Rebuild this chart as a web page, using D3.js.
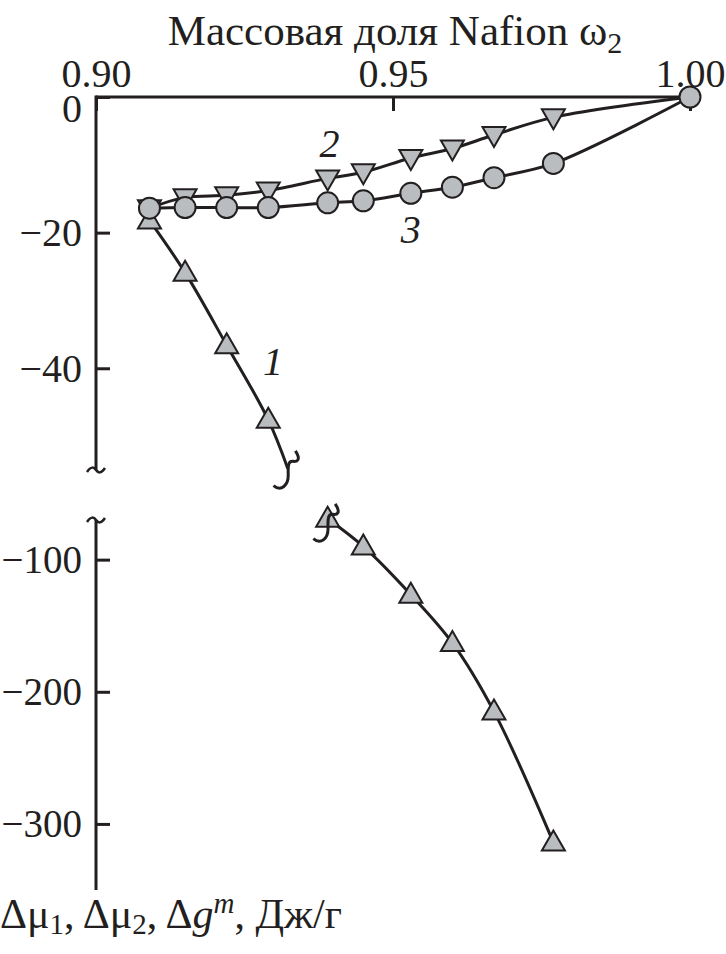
<!DOCTYPE html>
<html>
<head>
<meta charset="utf-8">
<script src="https://cdn.jsdelivr.net/npm/d3@7"></script>
<style>
  body { margin: 0; background: #fff; }
  svg text { font-family: "Liberation Serif", "Times New Roman", serif; fill: #231f20; }
</style>
</head>
<body>
<div id="chart"></div>
<script>
// data
const omega = [0.909, 0.915, 0.922, 0.929, 0.939, 0.945, 0.953, 0.960, 0.967, 0.977, 1.00];
const mu1 = [-18.2, -25.9, -36.6, -47.6, -69, -90, -126.5, -163, -215, -314];   // curve 1, no value at 1.00
const mu2 = [-16.4, -14.8, -14.5, -13.8, -12.0, -11.1, -9.0, -7.6, -5.6, -3.0, 0];
const gm = [-16.4, -16.3, -16.3, -16.3, -15.6, -15.3, -14.2, -13.3, -11.9, -9.8, 0];
const breakEnd1 = [0.9323, -54.8];   // where curve 1 is cut
const xTicks = [0.90, 0.95, 1.00];
const yTicksUpper = [0, -20, -40];
const yTicksLower = [-100, -200, -300];

const width = 726, height = 954;
const svg = d3.select("#chart").append("svg")
  .attr("width", width)
  .attr("height", height);

// SCALES ======================
const x = d3.scaleLinear().domain([0.90, 1.00]).range([96, 690]);
const yUp = d3.scaleLinear().domain([0, -55]).range([97, 470]);
const yLow = d3.scaleLinear().domain([-70, -350]).range([520, 890]);
const y = v => v >= -55 ? yUp(v) : yLow(v);

const ink = "#231f20";
const markFill = "#b9bdc0";

// AXES ========================
const xAxis = svg.append("g")
  .attr("transform", `translate(0,${yUp(0)})`)
  .call(d3.axisTop(x).tickValues(xTicks).tickSize(-14).tickPadding(10).tickFormat(d3.format(".2f")));
xAxis.select(".domain").attr("d", `M${x(0.90)},0H${x(1.00) + 2}`);

const yAxisUp = svg.append("g")
  .attr("transform", `translate(${x(0.90)},0)`)
  .call(d3.axisLeft(yUp).tickValues(yTicksUpper).tickSize(-14).tickPadding(14).tickFormat(d3.format("")));
yAxisUp.select(".domain").attr("d", `M0,${yUp(0) - 1.5}V${yUp(-55)}`);
// the zero label sits a bit lower, clear of the top axis labels
yAxisUp.selectAll(".tick").filter(d => d === 0).select("text").attr("dy", "0.62em");

const yAxisLow = svg.append("g")
  .attr("transform", `translate(${x(0.90)},0)`)
  .call(d3.axisLeft(yLow).tickValues(yTicksLower).tickSize(-14).tickPadding(14).tickFormat(d3.format("")));
yAxisLow.select(".domain").attr("d", `M0,${yLow(-70)}V${yLow(-350)}`);

svg.selectAll(".domain").attr("stroke", ink).attr("stroke-width", 3).attr("fill", "none");
svg.selectAll(".tick line").attr("stroke", ink).attr("stroke-width", 3);
svg.selectAll(".tick text")
  .attr("font-family", "Liberation Serif")
  .attr("font-size", 40)
  .attr("fill", ink);
svg.selectAll("g.tick").filter(d => d <= -100).select("text").attr("font-size", 39);

// axis break ticks
const tilde = "M-9,2 C-5,-4 -2,-3 0,0 S5,4 9,-2";
[yUp(-55), yLow(-70)].forEach(py => {
  svg.append("path")
    .attr("d", tilde)
    .attr("transform", `translate(${x(0.90)},${py})`)
    .attr("fill", "none").attr("stroke", ink).attr("stroke-width", 2.5);
});

// LINES =======================
const line = d3.line().x(d => x(d[0])).y(d => y(d[1])).curve(d3.curveCatmullRom.alpha(0.5));

const s1Upper = omega.slice(0, 4).map((w, i) => [w, mu1[i]]).concat([breakEnd1]);
const s1Lower = omega.slice(4, 10).map((w, i) => [w, mu1[i + 4]]);
const s2 = omega.map((w, i) => [w, mu2[i]]);
const s3 = omega.map((w, i) => [w, gm[i]]);

[s2, s3, s1Upper, s1Lower].forEach(pts => {
  svg.append("path")
    .attr("d", line(pts))
    .attr("fill", "none")
    .attr("stroke", ink)
    .attr("stroke-width", 3);
});

// MARKERS =====================
const triUp = "M0,-12 L11.5,8 L-11.5,8 Z";
const triDown = "M0,12 L11.5,-8 L-11.5,-8 Z";

svg.selectAll("path.m2").data(s2.slice(0, 10)).join("path")
  .attr("class", "m2")
  .attr("d", triDown)
  .attr("transform", d => `translate(${x(d[0])},${y(d[1])})`)
  .attr("fill", markFill).attr("stroke", ink).attr("stroke-width", 2);

svg.selectAll("path.m1").data(s1Upper.slice(0, 4).concat(s1Lower)).join("path")
  .attr("class", "m1")
  .attr("d", triUp)
  .attr("transform", d => `translate(${x(d[0])},${y(d[1])})`)
  .attr("fill", markFill).attr("stroke", ink).attr("stroke-width", 2);

svg.selectAll("circle.m3").data(s3).join("circle")
  .attr("class", "m3")
  .attr("cx", d => x(d[0]))
  .attr("cy", d => y(d[1]))
  .attr("r", 10.5)
  .attr("fill", markFill).attr("stroke", ink).attr("stroke-width", 2);

// break squiggles on curve 1 (same slant for both ends)
const squiggle = "M-21,-4 C-22,6 -12,8 -4,2 S8,-6 10,-2 S16,4 20,-6";
svg.append("path")
  .attr("d", squiggle)
  .attr("transform", `translate(${x(breakEnd1[0]) + 1},${y(breakEnd1[1]) + 2}) rotate(-55)`)
  .attr("fill", "none").attr("stroke", ink).attr("stroke-width", 3);

svg.append("path")
  .attr("d", squiggle)
  .attr("transform", `translate(${x(s1Lower[0][0]) + 1},${y(s1Lower[0][1]) + 5}) rotate(-55)`)
  .attr("fill", "none").attr("stroke", ink).attr("stroke-width", 3);

// CURVE NUMBERS ===============
const numLabels = [
  { t: "1", w: 0.9298, v: -41 },
  { t: "2", w: 0.9393, v: -8.8 },
  { t: "3", w: 0.9530, v: -21.6 }
];
svg.selectAll("text.num").data(numLabels).join("text")
  .attr("class", "num")
  .attr("x", d => x(d.w))
  .attr("y", d => y(d.v))
  .attr("text-anchor", "middle")
  .attr("font-size", 40)
  .attr("font-style", "italic")
  .text(d => d.t);

// TITLES ======================
const title = svg.append("text")
  .attr("x", 395)
  .attr("y", 45)
  .attr("text-anchor", "middle")
  .attr("font-size", 43);
title.append("tspan").text("Массовая доля Nafion ω");
title.append("tspan").attr("font-size", 30).attr("dy", 8).text("2");

const yLabel = svg.append("text")
  .attr("x", 0)
  .attr("y", 928)
  .attr("font-size", 42);
yLabel.append("tspan").text("Δμ");
yLabel.append("tspan").attr("font-size", 29).attr("dy", 6).text("1");
yLabel.append("tspan").attr("dy", -6).text(", Δμ");
yLabel.append("tspan").attr("font-size", 29).attr("dy", 6).text("2");
yLabel.append("tspan").attr("dy", -6).text(", Δ");
yLabel.append("tspan").attr("font-style", "italic").text("g");
yLabel.append("tspan").attr("font-style", "italic").attr("font-size", 29).attr("dy", -15).text("m");
yLabel.append("tspan").attr("dy", 15).text(", Дж/г");
</script>
</body>
</html>
